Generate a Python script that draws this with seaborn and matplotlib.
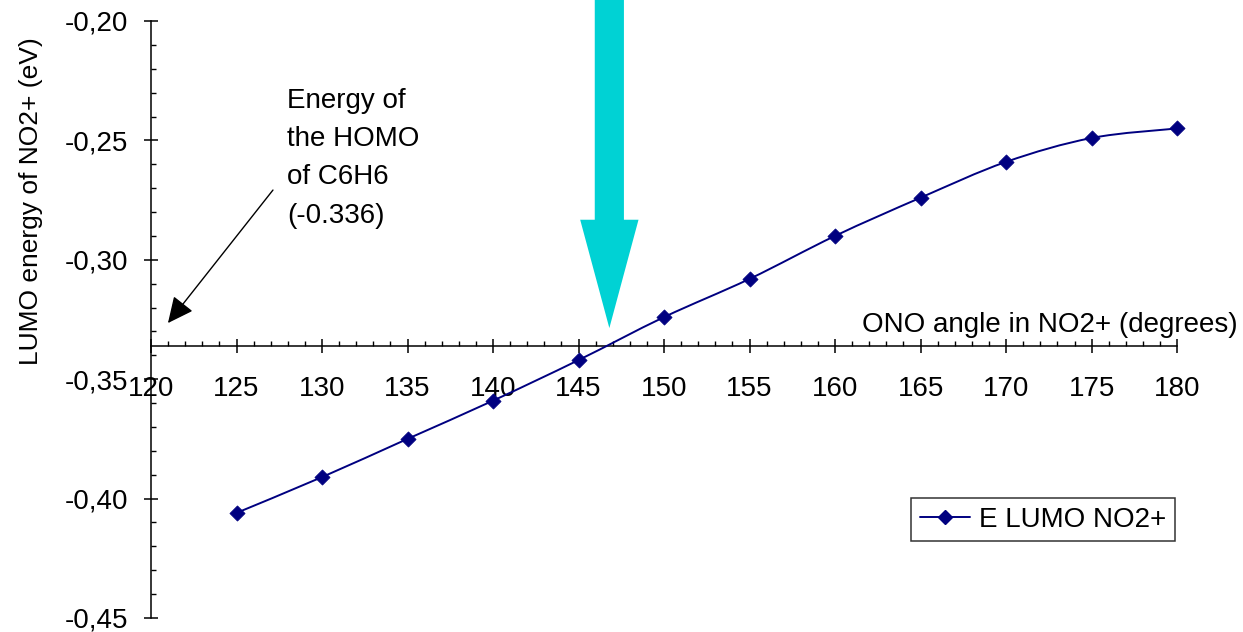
import numpy as np
import pandas as pd
import matplotlib
matplotlib.use("Agg")
import matplotlib.pyplot as plt
from matplotlib.path import Path
from matplotlib.patches import PathPatch
from matplotlib.lines import Line2D
from matplotlib.ticker import MultipleLocator, FuncFormatter
import seaborn as sns

# ONO bond angle (degrees) and LUMO energy of NO2+ (eV)
angles = [125, 130, 135, 140, 145, 150, 155, 160, 165, 170, 175, 180]
lumo_energy = [-0.406, -0.391, -0.375, -0.359, -0.342, -0.324,
               -0.308, -0.290, -0.274, -0.259, -0.249, -0.245]
homo_c6h6 = -0.336
crossing_angle = 146.8
series_name = "E LUMO NO2+"

df = pd.DataFrame({"angle": angles, "energy": lumo_energy})

sns.set_theme(style="ticks")
plt.rcParams["font.family"] = ["Liberation Sans", "DejaVu Sans"]
plt.rcParams["font.size"] = 20

NAVY = "#000080"
CYAN = "#00D2D4"
FS = 20

fig = plt.figure(figsize=(12.43, 6.32), dpi=100)
ax = fig.add_axes([0.1215, 0.0222, 0.8255, 0.9446])
ax.set_xlim(120, 180)
ax.set_ylim(-0.45, -0.20)

# smoothed curve through the points (Catmull-Rom style cubic Bezier segments)
pts = np.column_stack([df["angle"], df["energy"]])
verts = [pts[0]]
codes = [Path.MOVETO]
n = len(pts)
for i in range(n - 1):
    p0 = pts[i - 1] if i > 0 else pts[i]
    p1 = pts[i]
    p2 = pts[i + 1]
    p3 = pts[i + 2] if i + 2 < n else pts[i + 1]
    c1 = p1 + (p2 - p0) / 6.0
    c2 = p2 - (p3 - p1) / 6.0
    verts += [c1, c2, p2]
    codes += [Path.CURVE4] * 3
ax.add_patch(PathPatch(Path(verts, codes), fill=False, edgecolor=NAVY,
                       linewidth=1.4, zorder=3, clip_on=False))

sns.scatterplot(data=df, x="angle", y="energy", marker="D", s=60,
                color=NAVY, edgecolor=NAVY, linewidth=0.5, zorder=4,
                legend=False, clip_on=False, ax=ax)

# axes crossing at the HOMO energy of benzene
for side in ("top", "right"):
    ax.spines[side].set_visible(False)
ax.spines["bottom"].set_position(("data", homo_c6h6))
for side in ("left", "bottom"):
    ax.spines[side].set_color("black")
    ax.spines[side].set_linewidth(1.1)

ax.xaxis.set_major_locator(MultipleLocator(5))
ax.xaxis.set_minor_locator(MultipleLocator(1))
ax.yaxis.set_major_locator(MultipleLocator(0.05))
ax.yaxis.set_minor_locator(MultipleLocator(0.01))
ax.yaxis.set_major_formatter(FuncFormatter(lambda v, p: f"{v:.2f}".replace(".", ",")))
ax.xaxis.set_major_formatter(FuncFormatter(lambda v, p: f"{v:.0f}"))

ax.tick_params(axis="both", which="both", bottom=True, left=True,
               top=False, right=False)
ax.tick_params(axis="both", which="major", direction="inout", length=10,
               width=1.1, color="black", labelsize=FS, labelcolor="black")
ax.tick_params(axis="both", which="minor", direction="in", length=3.6,
               width=1.0, color="black")
ax.tick_params(axis="x", which="major", pad=16.5)
ax.tick_params(axis="y", which="major", pad=11.5)

ax.set_ylabel("LUMO energy of NO2+ (eV)", fontsize=19, color="black")
ax.yaxis.set_label_coords(-0.105, 0.699)

ax.set_xlabel("ONO angle in NO2+ (degrees)", fontsize=FS, color="black")
ax.xaxis.label.set_ha("right")
ax.xaxis.label.set_va("baseline")
ax.xaxis.set_label_coords(1.0585, 0.479)

# note about the benzene HOMO level
ax.text(127.95, -0.2279, "Energy of\nthe HOMO\nof C6H6\n(-0.336)",
        fontsize=FS, ha="left", va="top", linespacing=1.62, color="black")
ax.annotate("", xy=(120.99, -0.3265), xytext=(127.13, -0.2708),
            arrowprops=dict(arrowstyle="-|>,head_length=0.8,head_width=0.38",
                            color="black", lw=1.0, mutation_scale=20,
                            shrinkA=0, shrinkB=0))

# big arrow marking where the LUMO curve crosses the HOMO level
ax.annotate("", xy=(crossing_angle, -0.3286),
            xytext=(crossing_angle, 1.06),
            textcoords=ax.get_xaxis_transform(),
            arrowprops=dict(arrowstyle="simple,head_length=7.8,head_width=4.2,tail_width=2.1",
                            color=CYAN, mutation_scale=10, lw=0,
                            shrinkA=0, shrinkB=0),
            annotation_clip=False, zorder=2)

handle = Line2D([], [], color=NAVY, marker="D", markersize=7.5, linewidth=1.4,
                label=series_name)
leg = ax.legend(handles=[handle], loc="lower right",
                bbox_to_anchor=(0.998, 0.129), borderaxespad=0,
                fontsize=FS, frameon=True, fancybox=False, handlelength=1.8,
                handletextpad=0.35, borderpad=0.3, labelcolor="black")
leg.get_frame().set_edgecolor("black")
leg.get_frame().set_linewidth(1.1)

fig.savefig("out.png", dpi=100)
